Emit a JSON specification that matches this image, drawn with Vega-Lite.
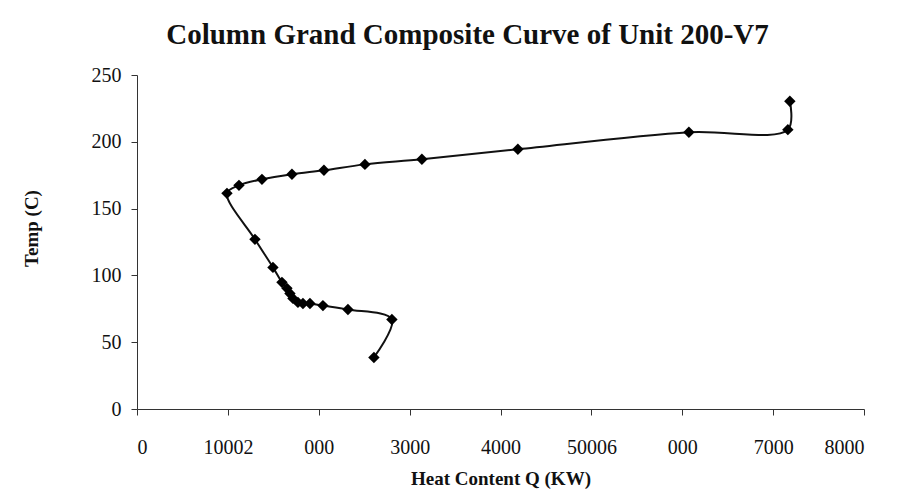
{
  "$schema": "https://vega.github.io/schema/vega-lite/v6.json",
  "width": 727,
  "height": 334,
  "autosize": "none",
  "padding": {"left": 137, "top": 75, "right": 40, "bottom": 86},
  "background": "white",
  "title": {
    "text": "Column Grand Composite Curve of Unit 200-V7",
    "font": "Liberation Serif",
    "fontSize": 29,
    "fontWeight": "bold",
    "color": "#111",
    "offset": 15,
    "dx": -33,
    "anchor": "middle"
  },
  "config": {
    "view": {"stroke": null},
    "axis": {
      "labelFont": "Liberation Serif",
      "titleFont": "Liberation Serif",
      "labelColor": "#111",
      "titleColor": "#111",
      "domainColor": "#333",
      "tickColor": "#333",
      "grid": false
    }
  },
  "data": {
    "values": [
      {"i": 1, "q": 2607, "t": 38.6},
      {"i": 2, "q": 2805, "t": 67},
      {"i": 3, "q": 2321, "t": 74.5},
      {"i": 4, "q": 2046, "t": 77.4},
      {"i": 5, "q": 1903, "t": 79},
      {"i": 6, "q": 1826, "t": 79},
      {"i": 7, "q": 1771, "t": 79.8},
      {"i": 8, "q": 1716, "t": 82.8},
      {"i": 9, "q": 1683, "t": 86.5},
      {"i": 10, "q": 1650, "t": 90.3},
      {"i": 11, "q": 1595, "t": 94.8},
      {"i": 12, "q": 1496, "t": 106},
      {"i": 13, "q": 1298, "t": 127},
      {"i": 14, "q": 990, "t": 161.4},
      {"i": 15, "q": 1122, "t": 167.4},
      {"i": 16, "q": 1375, "t": 171.9},
      {"i": 17, "q": 1705, "t": 175.7},
      {"i": 18, "q": 2057, "t": 178.7},
      {"i": 19, "q": 2508, "t": 183.1},
      {"i": 20, "q": 3135, "t": 186.9},
      {"i": 21, "q": 4191, "t": 194.4},
      {"i": 22, "q": 6073, "t": 207.1},
      {"i": 23, "q": 7162, "t": 209.1},
      {"i": 24, "q": 7184, "t": 230.3}
    ]
  },
  "encoding": {
    "x": {
      "field": "q",
      "type": "quantitative",
      "scale": {"domain": [0, 8000], "nice": false},
      "axis": {
        "title": "Heat Content Q (KW)",
        "values": [0, 1000, 2000, 3000, 4000, 5000, 6000, 7000, 8000],
        "labelExpr": "datum.value == 1000 ? '10002' : datum.value == 2000 ? '000' : datum.value == 5000 ? '50006' : datum.value == 6000 ? '000' : datum.label",
        "format": "d",
        "labelFontSize": 20,
        "titleFontSize": 19,
        "titleFontWeight": "bold",
        "tickSize": 6,
        "labelPadding": 22,
        "titlePadding": 12
      }
    },
    "y": {
      "field": "t",
      "type": "quantitative",
      "scale": {"domain": [0, 250], "nice": false},
      "axis": {
        "title": "Temp (C)",
        "values": [0, 50, 100, 150, 200, 250],
        "labelFontSize": 20,
        "titleFontSize": 19,
        "titleFontWeight": "bold",
        "tickSize": 6,
        "labelPadding": 10,
        "titlePadding": 50,
        "titleY": 153
      }
    },
    "order": {"field": "i", "type": "quantitative"}
  },
  "layer": [
    {
      "mark": {"type": "line", "color": "#111", "strokeWidth": 2, "interpolate": "catmull-rom"}
    },
    {
      "mark": {"type": "point", "shape": "diamond", "filled": true, "color": "#000", "size": 130, "opacity": 1}
    }
  ]
}
